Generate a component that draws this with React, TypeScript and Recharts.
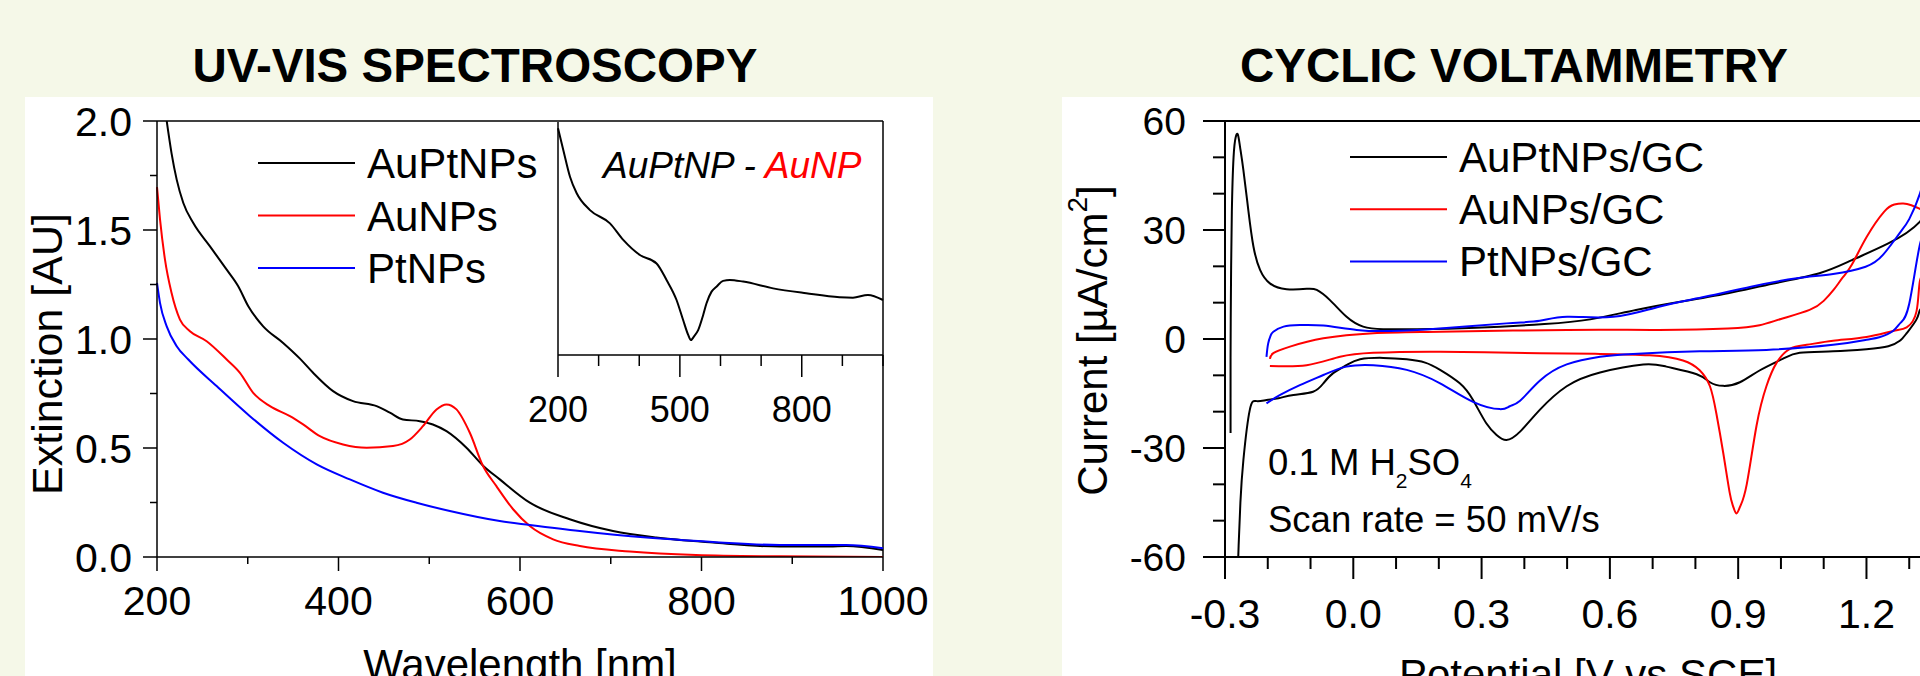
import { Legend, Line, LineChart, ReferenceLine, XAxis, YAxis } from "recharts";

// UV-vis extinction spectra: [wavelength nm, extinction AU]
const auPtUv = [
	[210.7, 2.0], [216, 1.853], [221.7, 1.731], [229, 1.624], [240, 1.532], [258.4, 1.425],
	[276.8, 1.318], [289.5, 1.242], [300.6, 1.15], [317, 1.058], [339, 0.982], [357.5, 0.91],
	[372, 0.845], [394, 0.761], [416, 0.715], [442, 0.692], [456.6, 0.662], [471, 0.631],
	[489.6, 0.623], [504, 0.608], [519, 0.577], [541, 0.501], [559, 0.42], [577.7, 0.356],
	[610.8, 0.249], [654.8, 0.173], [702.5, 0.119], [750, 0.089], [812.7, 0.066], [886, 0.048],
	[941, 0.048], [959.5, 0.05], [1000, 0.032],
];
const auUv = [
	[200, 1.697], [203.3, 1.55], [208.8, 1.364], [216, 1.212], [225.3, 1.089], [236.3, 1.036],
	[254.7, 0.99], [276.8, 0.906], [291.4, 0.845], [306, 0.753], [324.5, 0.692], [346.5, 0.646],
	[361, 0.608], [379.5, 0.554], [405, 0.516], [431, 0.501], [460, 0.509], [478.6, 0.539],
	[493, 0.6], [508, 0.677], [519, 0.7], [530, 0.677], [544.7, 0.57], [559, 0.42], [574, 0.325],
	[592.4, 0.219], [610.8, 0.142], [636.5, 0.081], [665.9, 0.05], [721, 0.025], [794, 0.009],
	[886, 0.003], [1000, 0.0],
];
const ptUv = [
	[200, 1.257], [203.3, 1.166], [210.7, 1.058], [221.7, 0.967], [234.5, 0.906], [265.7, 0.784],
	[302.4, 0.646], [339, 0.524], [376, 0.425], [412.5, 0.356], [449, 0.295], [486, 0.249],
	[522.7, 0.211], [577.7, 0.165], [610.8, 0.147], [665.9, 0.119], [739.3, 0.089], [812.7, 0.069],
	[886, 0.055], [959.5, 0.055], [1000, 0.04],
];
// inset: AuPtNP - AuNP difference spectrum (arbitrary scale)
const diffUv = [
	[200, 0.973], [213, 0.88], [229.5, 0.765], [246, 0.694], [278.7, 0.622], [327.9, 0.565],
	[360.6, 0.494], [401.6, 0.429], [442.6, 0.393], [467.2, 0.322], [491.8, 0.236], [508, 0.15],
	[520.5, 0.086], [527, 0.064], [534.5, 0.079], [545, 0.107], [557.4, 0.172], [565.6, 0.222],
	[578, 0.272], [590, 0.293], [606.5, 0.318], [623, 0.322], [655.7, 0.315], [729.5, 0.286],
	[811, 0.265], [893, 0.248], [926, 0.246], [963, 0.258], [1000, 0.236],
];

// cyclic voltammograms in scan order: [potential V vs SCE, current µA/cm2]
const auPtCv = [
	[-0.287, -25.9], [-0.287, -5], [-0.286, 15], [-0.284, 35], [-0.28, 50], [-0.275, 55.5],
	[-0.27, 56.3], [-0.265, 53], [-0.257, 46.5], [-0.2455, 35.5], [-0.2334, 25.4], [-0.218, 19],
	[-0.195, 15.3], [-0.156, 13.7], [-0.109, 13.8], [-0.0855, 13.5], [-0.0546, 10.7], [-0.0157, 6.1],
	[0.023, 3.4], [0.07, 2.7], [0.15, 2.7], [0.286, 3.1], [0.447, 4.1], [0.554, 5.4], [0.661, 8],
	[0.768, 10.3], [0.876, 12.6], [0.983, 15.3], [1.09, 18.1], [1.166, 21.7], [1.251, 26.3],
	[1.325, 32.3], [1.37, 39], [1.395, 34], [1.37, 16], [1.34, 9.5], [1.325, 8], [1.317, 5.4],
	[1.294, 1.6], [1.278, -0.5], [1.251, -2.0], [1.2, -2.8], [1.122, -3.4], [1.044, -3.8],
	[1.005, -5.4], [0.951, -8.6], [0.904, -11.9], [0.865, -12.9], [0.834, -11.9], [0.803, -9.7],
	[0.732, -7.6], [0.678, -7], [0.577, -9.2], [0.499, -13], [0.436, -19.5], [0.39, -25.5],
	[0.358, -27.8], [0.335, -26.4], [0.311, -23.2], [0.28, -16.8], [0.249, -12.2], [0.203, -8.5],
	[0.168, -6.5], [0.125, -5.6], [0.07, -5.2], [0.016, -5.6], [-0.016, -7.2], [-0.047, -9.4],
	[-0.07, -12.2], [-0.094, -14.5], [-0.14, -15.4], [-0.175, -16.3], [-0.203, -16.8],
	[-0.226, -17.1], [-0.242, -19.5], [-0.257, -33.3], [-0.264, -45], [-0.269, -60], [-0.272, -75],
];
const auCv = [
	[-0.195, -5.5], [-0.187, -3.9], [-0.148, -2.1], [-0.07, 0.2], [0.047, 1.6], [0.203, 2.0],
	[0.5, 2.5], [0.715, 2.5], [0.876, 2.9], [0.95, 3.8], [1.0, 5.5], [1.067, 8], [1.1, 10.5],
	[1.123, 13.5], [1.145, 17], [1.166, 20.5], [1.2, 28], [1.241, 35], [1.265, 37], [1.286, 37.3],
	[1.305, 36.8], [1.325, 35.8], [1.36, 36], [1.395, 40], [1.38, 30], [1.345, 20], [1.325, 16],
	[1.317, 7.6], [1.294, 3.2], [1.262, 2.2], [1.2, 0.55], [1.122, -0.5], [1.06, -1.6],
	[1.021, -2.7], [0.99, -6.5], [0.966, -13], [0.943, -23.8], [0.92, -40], [0.905, -46],
	[0.896, -48], [0.888, -46], [0.88, -42.2], [0.865, -31.3], [0.849, -20.5], [0.834, -13],
	[0.81, -8.6], [0.771, -5.9], [0.693, -4.5], [0.577, -4.1], [0.436, -3.9], [0.203, -3.5],
	[0.047, -3.8], [-0.031, -4.9], [-0.109, -7.2], [-0.195, -7.4],
];
const ptCv = [
	[-0.203, -4.9], [-0.199, -1.2], [-0.193, 1.0], [-0.187, 2.0], [-0.163, 3.4], [-0.125, 3.85],
	[-0.07, 3.7], [0.008, 2.5], [0.086, 2.2], [0.203, 2.9], [0.358, 4.3], [0.436, 5.0], [0.5, 6.1],
	[0.608, 6.1], [0.715, 8.9], [0.822, 11.6], [0.93, 14.4], [1.037, 16.7], [1.122, 17.9],
	[1.198, 19.9], [1.239, 23.2], [1.278, 29.2], [1.3, 33], [1.325, 40], [1.345, 47], [1.36, 44],
	[1.345, 32], [1.325, 26], [1.3, 9.7], [1.28, 4.5], [1.262, 2.2], [1.23, 0.5], [1.2, -0.2],
	[1.122, -1.6], [0.966, -3.0], [0.81, -3.4], [0.654, -4.1], [0.577, -4.9], [0.499, -7.0],
	[0.436, -11.5], [0.39, -17], [0.366, -18.5], [0.343, -19.3], [0.28, -17.3], [0.203, -12.2],
	[0.125, -8.5], [0.047, -7.2], [-0.016, -7.6], [-0.07, -9.9], [-0.125, -12.7], [-0.171, -15.4],
	[-0.203, -17.7],
];

const uvNames = ["AuPtNPs", "AuNPs", "PtNPs"];
const cvNames = ["AuPtNPs/GC", "AuNPs/GC", "PtNPs/GC"];

// axis ticks (all ticks get a mark, majors also get a label)
const uvTicksX = [200, 300, 400, 500, 600, 700, 800, 900, 1000];
const uvMajorX = [200, 400, 600, 800, 1000];
const uvTicksY = [0, 0.25, 0.5, 0.75, 1, 1.25, 1.5, 1.75, 2];
const uvMajorY = [0, 0.5, 1, 1.5, 2];
const insetMajorX = [200, 500, 800];
const cvTicksX = [-0.3, -0.2, -0.1, 0, 0.1, 0.2, 0.3, 0.4, 0.5, 0.6, 0.7, 0.8, 0.9, 1.0, 1.1, 1.2, 1.3, 1.4];
const cvMajorX = [-0.3, 0, 0.3, 0.6, 0.9, 1.2];
const cvTicksY = [-60, -50, -40, -30, -20, -10, 0, 10, 20, 30, 40, 50, 60];
const cvMajorY = [-60, -30, 0, 30, 60];

const FONT = '"Liberation Sans", Arial, sans-serif';
const CREAM = "#F5F8E8";

const toPoints = (pairs: number[][]) => pairs.map(([x, y]) => ({ x, y }));
const isMajor = (majors: number[], v: number) => majors.some((m) => Math.abs(m - v) < 1e-6);

function bottomTick(majors: number[], majorLen: number, minorLen: number, gap: number, fontSize: number, digits: number, sw: number) {
	return (props: any) => {
		const { x, y, payload } = props;
		const major = isMajor(majors, payload.value);
		return (
			<g>
				<line x1={x} y1={y} x2={x} y2={y + (major ? majorLen : minorLen)} stroke="#000" strokeWidth={sw} />
				{major && (
					<text x={x} y={y + gap} textAnchor="middle" fontSize={fontSize} fill="#000">
						{payload.value.toFixed(digits)}
					</text>
				)}
			</g>
		);
	};
}

function leftTick(majors: number[], majorLen: number, minorLen: number, gap: number, fontSize: number, digits: number, sw: number) {
	return (props: any) => {
		const { x, y, payload } = props;
		const major = isMajor(majors, payload.value);
		return (
			<g>
				<line x1={x - (major ? majorLen : minorLen)} y1={y} x2={x} y2={y} stroke="#000" strokeWidth={sw} />
				{major && (
					<text x={x - gap} y={y + fontSize * 0.358} textAnchor="end" fontSize={fontSize} fill="#000">
						{payload.value.toFixed(digits)}
					</text>
				)}
			</g>
		);
	};
}

// legend drawn in series order (recharts sorts its payload by name)
function legendContent(order: string[], spacing: number) {
	return (props: any) => {
		const items = [...(props.payload || [])].sort((a: any, b: any) => order.indexOf(a.value) - order.indexOf(b.value));
		return (
			<svg width={420} height={180} style={{ overflow: "visible" }}>
				{items.map((e: any, i: number) => (
					<g key={e.value}>
						<line x1={0} x2={97} y1={26 + i * spacing} y2={26 + i * spacing} stroke={e.color} strokeWidth={2} />
						<text x={109} y={26 + i * spacing + 15} fontSize={42} fill="#000">
							{e.value}
						</text>
					</g>
				))}
			</svg>
		);
	};
}

function UvChart() {
	return (
		<LineChart width={960} height={676} margin={{ top: 121, right: 77, bottom: 0, left: 0 }}>
			<XAxis
				type="number"
				dataKey="x"
				domain={[200, 1000]}
				ticks={uvTicksX}
				interval={0}
				height={119}
				tickSize={0}
				tickMargin={0}
				axisLine={{ stroke: "#000", strokeWidth: 1.5 }}
				tick={bottomTick(uvMajorX, 14, 7, 57.5, 41, 0, 1.5)}
			/>
			<YAxis
				type="number"
				domain={[0, 2]}
				allowDataOverflow
				ticks={uvTicksY}
				interval={0}
				width={157}
				tickSize={0}
				tickMargin={0}
				axisLine={{ stroke: "#000", strokeWidth: 1.5 }}
				tick={leftTick(uvMajorY, 14, 7, 25, 41, 1, 1.5)}
			/>
			<ReferenceLine y={2} stroke="#000" strokeWidth={1.5} />
			<ReferenceLine x={1000} stroke="#000" strokeWidth={1.5} />
			<Legend
				layout="vertical"
				align="center"
				verticalAlign="middle"
				content={legendContent(uvNames, 52.5)}
				wrapperStyle={{ left: 258, top: 137, width: 420, height: 180 }}
			/>
			<Line data={toPoints(auPtUv)} dataKey="y" name={uvNames[0]} type="monotone" stroke="#000000" strokeWidth={2} dot={false} activeDot={false} isAnimationActive={false} />
			<Line data={toPoints(auUv)} dataKey="y" name={uvNames[1]} type="monotone" stroke="#FF0000" strokeWidth={2} dot={false} activeDot={false} isAnimationActive={false} />
			<Line data={toPoints(ptUv)} dataKey="y" name={uvNames[2]} type="monotone" stroke="#0000FF" strokeWidth={2} dot={false} activeDot={false} isAnimationActive={false} />
		</LineChart>
	);
}

function InsetChart() {
	return (
		<LineChart width={400} height={340} margin={{ top: 22, right: 17, bottom: 0, left: 0 }}>
			<XAxis
				type="number"
				dataKey="x"
				domain={[200, 1000]}
				ticks={uvTicksX}
				interval={0}
				height={85}
				tickSize={0}
				tickMargin={0}
				axisLine={{ stroke: "#000", strokeWidth: 1.5 }}
				tick={bottomTick(insetMajorX, 22, 11, 66.7, 36, 0, 1.5)}
			/>
			<YAxis type="number" domain={[0, 1]} width={58} tick={false} tickLine={false} axisLine={{ stroke: "#000", strokeWidth: 1.5 }} />
			<Line data={toPoints(diffUv)} dataKey="y" type="monotone" stroke="#000000" strokeWidth={2} dot={false} activeDot={false} legendType="none" isAnimationActive={false} />
		</LineChart>
	);
}

function CvChart() {
	return (
		<LineChart width={1000} height={676} margin={{ top: 121, right: 110, bottom: 0, left: 0 }}>
			<XAxis
				type="number"
				dataKey="x"
				domain={[-0.3, 1.4]}
				allowDataOverflow
				ticks={cvTicksX}
				interval={0}
				height={119}
				tickSize={0}
				tickMargin={0}
				axisLine={{ stroke: "#000", strokeWidth: 2 }}
				tick={bottomTick(cvMajorX, 22, 12, 70.6, 41, 1, 2)}
			/>
			<YAxis
				type="number"
				domain={[-60, 60]}
				allowDataOverflow
				ticks={cvTicksY}
				interval={0}
				width={163}
				tickSize={0}
				tickMargin={0}
				axisLine={{ stroke: "#000", strokeWidth: 2 }}
				tick={leftTick(cvMajorY, 22, 12, 39, 39, 0, 2)}
			/>
			<ReferenceLine y={60} stroke="#000" strokeWidth={2} />
			<Legend
				layout="vertical"
				align="center"
				verticalAlign="middle"
				content={legendContent(cvNames, 52.2)}
				wrapperStyle={{ left: 288, top: 131, width: 420, height: 180 }}
			/>
			<Line data={toPoints(auPtCv)} dataKey="y" name={cvNames[0]} type="natural" stroke="#000000" strokeWidth={2} dot={false} activeDot={false} isAnimationActive={false} />
			<Line data={toPoints(auCv)} dataKey="y" name={cvNames[1]} type="natural" stroke="#FF0000" strokeWidth={2} dot={false} activeDot={false} isAnimationActive={false} />
			<Line data={toPoints(ptCv)} dataKey="y" name={cvNames[2]} type="natural" stroke="#0000FF" strokeWidth={2} dot={false} activeDot={false} isAnimationActive={false} />
		</LineChart>
	);
}

export default function App() {
	return (
		<div
			style={{
				position: "fixed",
				left: 0,
				top: 0,
				width: 1920,
				height: 676,
				overflow: "hidden",
				background: CREAM,
				fontFamily: FONT,
			}}
		>
			<div style={{ position: "absolute", left: 25, top: 97, width: 908, height: 579, background: "#fff" }} />
			<div style={{ position: "absolute", left: 1062, top: 97, width: 858, height: 579, background: "#fff" }} />
			<div style={{ position: "absolute", left: 0, top: 0 }}>
				<UvChart />
			</div>
			<div style={{ position: "absolute", left: 500, top: 100 }}>
				<InsetChart />
			</div>
			<div style={{ position: "absolute", left: 1062, top: 0 }}>
				<CvChart />
			</div>
			<svg width={1920} height={676} style={{ position: "absolute", left: 0, top: 0, pointerEvents: "none" }}>
				<text x={475} y={82} textAnchor="middle" fontSize={47.5} fontWeight="bold" fill="#000">
					UV-VIS SPECTROSCOPY
				</text>
				<text x={1514} y={82} textAnchor="middle" fontSize={47.5} fontWeight="bold" fill="#000">
					CYCLIC VOLTAMMETRY
				</text>
				<text transform="translate(61.7,354) rotate(-90)" textAnchor="middle" fontSize={43} fill="#000">
					Extinction [AU]
				</text>
				<text x={520} y={678.5} textAnchor="middle" fontSize={42} fill="#000">
					Wavelength [nm]
				</text>
				<text transform="translate(1106.7,340.5) rotate(-90)" textAnchor="middle" fontSize={42} fill="#000">
					Current [µA/cm<tspan dy={-20} fontSize={28}>2</tspan>
					<tspan dy={20}>]</tspan>
				</text>
				<text x={1588} y={689} textAnchor="middle" fontSize={42} fill="#000">
					Potential [V vs SCE]
				</text>
				<text x={603} y={178} fontSize={37} fontStyle="italic" fill="#000">
					AuPtNP - <tspan fill="#FF0000">AuNP</tspan>
				</text>
				<text x={1268} y={475} fontSize={36.5} fill="#000">
					0.1 M H<tspan dy={13} fontSize={21}>2</tspan>
					<tspan dy={-13}>SO</tspan>
					<tspan dy={13} fontSize={21}>4</tspan>
				</text>
				<text x={1268} y={531.7} fontSize={36.5} fill="#000">
					Scan rate = 50 mV/s
				</text>
			</svg>
		</div>
	);
}
